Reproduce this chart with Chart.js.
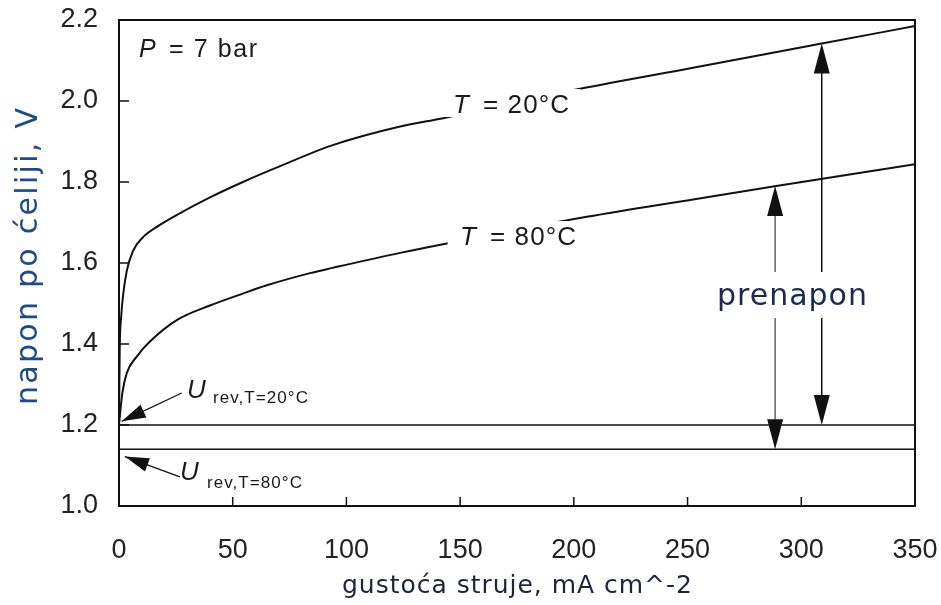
<!DOCTYPE html>
<html>
<head>
<meta charset="utf-8">
<script src="https://cdn.jsdelivr.net/npm/chart.js@4.4.1/dist/chart.umd.min.js"></script>
<style>
  html, body { margin: 0; padding: 0; background: #fff; }
  #wrap { width: 941px; height: 605px; }
</style>
</head>
<body>
<div id="wrap"><canvas id="chart" width="941" height="605"></canvas></div>
<script>
// podaci ocitani sa slike
const xTicks = [0, 50, 100, 150, 200, 250, 300, 350];
const yTicks = [1.0, 1.2, 1.4, 1.6, 1.8, 2.0, 2.2];

const t20X = [0, 0.3, 1, 1.6, 3.4, 6.2, 10.6, 18, 25.5, 40, 54.5, 69.5, 94, 123.6, 142, 202.7, 252.4, 309, 350];
const t20Y = [1.2, 1.38, 1.47, 1.51, 1.58, 1.63, 1.664, 1.694, 1.719, 1.762, 1.800, 1.836, 1.891, 1.937, 1.957, 2.030, 2.082, 2.142, 2.185];

const t80X = [0, 0.5, 1.5, 3.4, 7.8, 13.6, 25.4, 40, 54.7, 65, 84, 94, 123.6, 144.7, 205.7, 252.4, 289, 350];
const t80Y = [1.2, 1.23, 1.28, 1.328, 1.369, 1.406, 1.459, 1.495, 1.525, 1.545, 1.575, 1.588, 1.625, 1.649, 1.714, 1.757, 1.790, 1.844];

const uRev20 = 1.2;
const uRev80 = 1.14;

// strelice prenapona: x, od, do
const overArrows = [
    { x: 309, from: 1.2, to: 2.142, color: '#111' },
    { x: 288.5, from: 1.14, to: 1.79, color: '#666' }
];

const toPts = (xs, ys) => xs.map((x, i) => ({ x: x, y: ys[i] }));

const FONT = '"Liberation Sans", Arial, sans-serif';
const TITLE_FONT = '"DejaVu Sans", Verdana, sans-serif';

function arrowHead(ctx, x1, y1, x2, y2, len, w) {
    const a = Math.atan2(y2 - y1, x2 - x1);
    ctx.beginPath();
    ctx.moveTo(x2, y2);
    ctx.lineTo(x2 - len * Math.cos(a) + (w / 2) * Math.sin(a), y2 - len * Math.sin(a) - (w / 2) * Math.cos(a));
    ctx.lineTo(x2 - len * Math.cos(a) - (w / 2) * Math.sin(a), y2 - len * Math.sin(a) + (w / 2) * Math.cos(a));
    ctx.closePath();
    ctx.fill();
}

function fitText(ctx, text, x, y, width) {
    const n = [...text].length;
    ctx.letterSpacing = '0px';
    const w = ctx.measureText(text).width;
    ctx.letterSpacing = ((width - w) / (n - 1)).toFixed(2) + 'px';
    ctx.fillText(text, x, y);
    ctx.letterSpacing = '0px';
}

const decor = {
    id: 'decor',
    afterDatasetsDraw(chart) {
        const { ctx, chartArea: a, scales: { x, y } } = chart;
        ctx.save();
        // bijela podloga prekida krivulje ispod labela
        ctx.fillStyle = '#fff';
        ctx.fillRect(x.getPixelForValue(142), y.getPixelForValue(1.995) - 14, x.getPixelForValue(203) - x.getPixelForValue(142), 28);
        ctx.fillRect(x.getPixelForValue(144.5), y.getPixelForValue(1.669) - 14, x.getPixelForValue(205.5) - x.getPixelForValue(144.5), 28);

        // okvir
        ctx.strokeStyle = '#111';
        ctx.lineWidth = 2;
        ctx.strokeRect(a.left, a.top, a.right - a.left, a.bottom - a.top);

        // crtice prema unutra
        ctx.lineWidth = 1.5;
        ctx.beginPath();
        xTicks.slice(1, -1).forEach(v => {
            const px = x.getPixelForValue(v);
            ctx.moveTo(px, a.bottom);
            ctx.lineTo(px, a.bottom - 9);
        });
        yTicks.slice(1, -1).forEach(v => {
            const py = y.getPixelForValue(v);
            ctx.moveTo(a.left, py);
            ctx.lineTo(a.left + 10, py);
        });
        ctx.stroke();

        // strelice prenapona
        const gapTop = 272, gapBot = 318;
        overArrows.forEach(ar => {
            const px = x.getPixelForValue(ar.x);
            const p0 = y.getPixelForValue(ar.from);
            const p1 = y.getPixelForValue(ar.to);
            ctx.strokeStyle = ar.color;
            ctx.fillStyle = '#111';
            ctx.lineWidth = 1.5;
            ctx.beginPath();
            ctx.moveTo(px, p1 + 20); ctx.lineTo(px, gapTop);
            ctx.moveTo(px, gapBot); ctx.lineTo(px, p0 - 20);
            ctx.stroke();
            arrowHead(ctx, px, p1 + 40, px, p1, 30, 16);
            arrowHead(ctx, px, p0 - 40, px, p0, 30, 16);
        });

        // strelice U_rev
        ctx.strokeStyle = '#111';
        ctx.fillStyle = '#111';
        ctx.lineWidth = 1.3;
        const uArrows = [
            [27.6, 1.279, 1.2, 1.209],
            [26.8, 1.072, 2.6, 1.122]
        ];
        uArrows.forEach(u => {
            const x1 = x.getPixelForValue(u[0]), y1 = y.getPixelForValue(u[1]);
            const x2 = x.getPixelForValue(u[2]), y2 = y.getPixelForValue(u[3]);
            ctx.beginPath();
            ctx.moveTo(x1, y1); ctx.lineTo(x2, y2);
            ctx.stroke();
            arrowHead(ctx, x1, y1, x2, y2, 24, 14);
        });

        // tekstovi
        ctx.fillStyle = '#1a1a1a';
        ctx.textBaseline = 'alphabetic';
        ctx.textAlign = 'left';
        ctx.font = 'italic 25px ' + FONT;
        ctx.fillText('P', 139, 57);
        ctx.font = '25px ' + FONT;
        fitText(ctx, '= 7 bar', 169, 57, 88);

        const tLabel = (left, base, txt) => {
            ctx.font = 'italic 26px ' + FONT;
            ctx.fillText('T', left, base);
            ctx.font = '26px ' + FONT;
            fitText(ctx, '= ' + txt, left + 30, base, 86);
        };
        tLabel(453, 113, '20°C');
        tLabel(460, 245, '80°C');

        ctx.font = 'italic 26px ' + FONT;
        ctx.fillText('U', 187, 398);
        ctx.fillText('U', 180, 480);
        ctx.font = '17px ' + FONT;
        fitText(ctx, 'rev,T=20°C', 213, 403, 95);
        fitText(ctx, 'rev,T=80°C', 207, 488, 95);

        // prenapon
        ctx.fillStyle = '#1b2a4e';
        ctx.font = '30px ' + TITLE_FONT;
        fitText(ctx, 'prenapon', 717, 305, 150);

        // naslovi osi
        ctx.fillStyle = '#1c2440';
        ctx.font = '25px ' + TITLE_FONT;
        fitText(ctx, 'gustoća struje, mA cm^-2', 342, 593, 350);

        ctx.save();
        ctx.translate(37, 405);
        ctx.rotate(-Math.PI / 2);
        ctx.fillStyle = '#1f4a8a';
        ctx.font = '30px ' + TITLE_FONT;
        fitText(ctx, 'napon po ćeliji, V', 0, 0, 297);
        ctx.restore();

        ctx.restore();
    }
};

const ctx = document.getElementById('chart').getContext('2d');
const chart = new Chart(ctx, {
    type: 'scatter',
    data: {
        datasets: [
            { label: 'T = 20°C', data: toPts(t20X, t20Y) },
            { label: 'T = 80°C', data: toPts(t80X, t80Y) },
            { label: 'U rev 20', data: toPts([0, 350], [uRev20, uRev20]), borderWidth: 1.6 },
            { label: 'U rev 80', data: toPts([0, 350], [uRev80, uRev80]), borderWidth: 1.6 }
        ]
    },
    options: {
        responsive: false,
        animation: false,
        showLine: true,
        elements: {
            point: { radius: 0 },
            line: { borderColor: '#111', borderWidth: 2, cubicInterpolationMode: 'monotone', fill: false }
        },
        layout: { padding: { top: 20, right: 26, left: 0, bottom: 0 } },
        plugins: {
            legend: { display: false },
            tooltip: { enabled: false }
        },
        scales: {
            x: {
                type: 'linear',
                min: 0,
                max: 350,
                afterBuildTicks: s => { s.ticks = xTicks.map(v => ({ value: v })); },
                afterFit: s => { s.height = 99; s.paddingLeft = 0; s.paddingRight = 0; },
                grid: { display: false },
                border: { display: false },
                ticks: {
                    color: '#222',
                    font: { family: FONT, size: 27 },
                    padding: 20,
                    maxRotation: 0
                }
            },
            y: {
                min: 1.0,
                max: 2.2,
                afterBuildTicks: s => { s.ticks = yTicks.map(v => ({ value: v })); },
                afterFit: s => { s.width = 119; s.paddingTop = 0; s.paddingBottom = 0; },
                grid: { display: false },
                border: { display: false },
                ticks: {
                    color: '#222',
                    font: { family: FONT, size: 27 },
                    padding: 13,
                    callback: v => v.toFixed(1)
                }
            }
        }
    },
    plugins: [decor]
});
</script>
</body>
</html>
